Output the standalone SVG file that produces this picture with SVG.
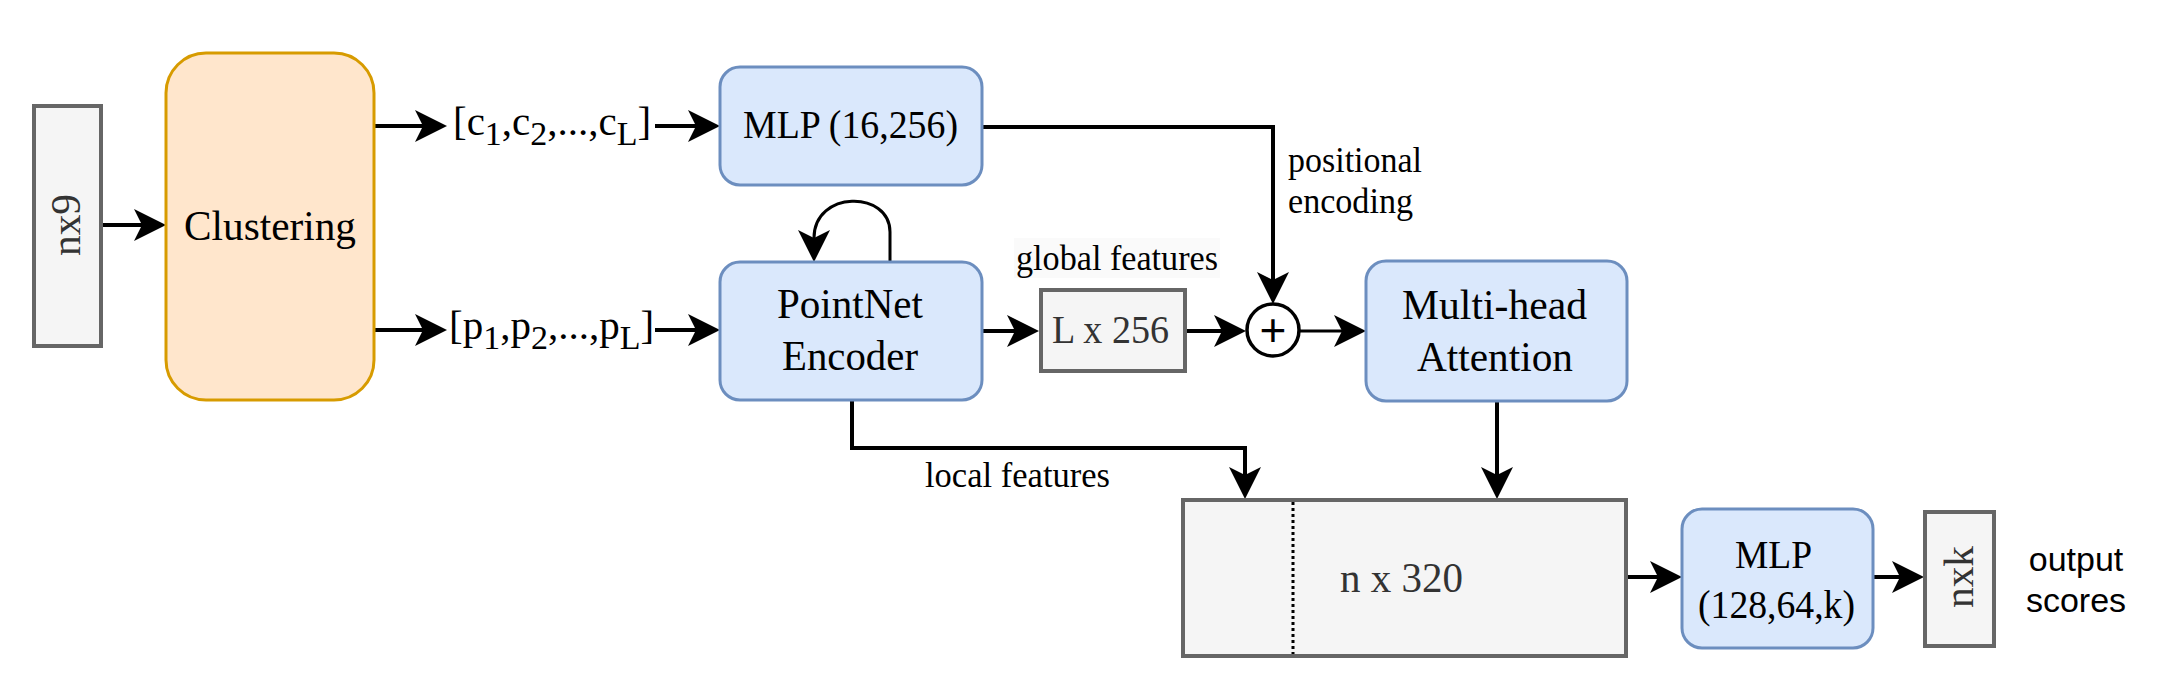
<svg xmlns="http://www.w3.org/2000/svg" width="2172" height="700" viewBox="0 0 2172 700">
<style>
.serif{font-family:"Liberation Serif","Times New Roman",serif;fill:#000}
.big{font-size:43px}
.sub{font-size:41px}
.mid{font-size:40px}
.lbl{font-size:36px}
.gray{fill:#333}
.blue{fill:#dae8fc;stroke:#6c8ebf;stroke-width:3}
.gbox{fill:#f5f5f5;stroke:#666;stroke-width:4}
.conn{fill:none;stroke:#000;stroke-width:4}
.thin{stroke-width:3}
</style>
<defs>
<marker id="arr" markerUnits="userSpaceOnUse" markerWidth="32" markerHeight="32" viewBox="0 0 32 32" refX="8" refY="16" orient="auto">
<path d="M32,16 L0,0 L8,16 L0,32 Z" fill="#000"/>
</marker>
</defs>
<rect width="2172" height="700" fill="#fff"/>

<g id="connectors">
<path class="conn" d="M102,225 H142" marker-end="url(#arr)"/>
<path class="conn" d="M374,126 H423" marker-end="url(#arr)"/>
<path class="conn" d="M655,126 H696" marker-end="url(#arr)"/>
<path class="conn" d="M374,330 H423" marker-end="url(#arr)"/>
<path class="conn" d="M655,330 H696" marker-end="url(#arr)"/>
<path class="conn thin" d="M890,262 V232 C890,190 814,190 814,238" marker-end="url(#arr)"/>
<path class="conn" d="M982,331 H1015" marker-end="url(#arr)"/>
<path class="conn" d="M1187,331 H1222" marker-end="url(#arr)"/>
<path class="conn" d="M982,127 H1273 V280" marker-end="url(#arr)"/>
<path class="conn thin" d="M1300,331 H1342" marker-end="url(#arr)"/>
<path class="conn" d="M852,400 V448 H1245 V475" marker-end="url(#arr)"/>
<path class="conn" d="M1497,401 V475" marker-end="url(#arr)"/>
<path class="conn" d="M1627,577 H1658" marker-end="url(#arr)"/>
<path class="conn" d="M1873,577 H1900" marker-end="url(#arr)"/>
</g>

<g id="input">
<rect class="gbox" x="34" y="106" width="67" height="240"/>
<text class="serif big gray" transform="translate(80,225) rotate(-90)" x="-31" y="0" textLength="62" lengthAdjust="spacingAndGlyphs">nx9</text>
</g>

<g id="clustering">
<rect x="166" y="53" width="208" height="347" rx="40" fill="#ffe6cc" stroke="#d79b00" stroke-width="3"/>
<text class="serif big" x="184" y="240" textLength="172" lengthAdjust="spacingAndGlyphs">Clustering</text>
</g>

<g id="centroids">
<text class="serif sub" x="453" y="135">[c<tspan dy="10" font-size="34">1</tspan><tspan dy="-10">,c</tspan><tspan dy="10" font-size="34">2</tspan><tspan dy="-10">,...,c</tspan><tspan dy="10" font-size="34">L</tspan><tspan dy="-10">]</tspan></text>
</g>

<g id="points">
<text class="serif sub" x="449" y="339">[p<tspan dy="10" font-size="34">1</tspan><tspan dy="-10">,p</tspan><tspan dy="10" font-size="34">2</tspan><tspan dy="-10">,...,p</tspan><tspan dy="10" font-size="34">L</tspan><tspan dy="-10">]</tspan></text>
</g>

<g id="mlp1">
<rect class="blue" x="720" y="67" width="262" height="118" rx="20"/>
<text class="serif mid" x="743" y="138" textLength="215" lengthAdjust="spacingAndGlyphs">MLP (16,256)</text>
</g>

<g id="pointnet">
<rect class="blue" x="720" y="262" width="262" height="138" rx="20"/>
<text class="serif big" x="777" y="318" textLength="146" lengthAdjust="spacingAndGlyphs">PointNet</text>
<text class="serif big" x="782" y="370" textLength="136" lengthAdjust="spacingAndGlyphs">Encoder</text>
</g>

<g id="global-label">
<rect x="1014" y="238" width="206" height="40" fill="#fafafa"/>
<text class="serif lbl" x="1016" y="270" textLength="202" lengthAdjust="spacingAndGlyphs">global features</text>
</g>

<g id="global">
<rect class="gbox" x="1041" y="290" width="144" height="81"/>
<text class="serif mid gray" x="1052" y="343" textLength="117" lengthAdjust="spacingAndGlyphs">L x 256</text>
</g>

<g id="pos-label">
<text class="serif lbl" x="1288" y="172" textLength="134" lengthAdjust="spacingAndGlyphs">positional</text>
<text class="serif lbl" x="1288" y="213" textLength="125" lengthAdjust="spacingAndGlyphs">encoding</text>
</g>

<g id="sum">
<circle cx="1273" cy="330" r="26" fill="#fff" stroke="#000" stroke-width="3.5"/>
<text x="1273" y="346" text-anchor="middle" font-family="Liberation Sans, Arial, sans-serif" font-size="46">+</text>
</g>

<g id="attention">
<rect class="blue" x="1366" y="261" width="261" height="140" rx="20"/>
<text class="serif big" x="1402" y="319" textLength="185" lengthAdjust="spacingAndGlyphs">Multi-head</text>
<text class="serif big" x="1417" y="371" textLength="156" lengthAdjust="spacingAndGlyphs">Attention</text>
</g>

<g id="local-label">
<text class="serif lbl" x="925" y="487" textLength="185" lengthAdjust="spacingAndGlyphs">local features</text>
</g>

<g id="concat">
<rect class="gbox" x="1183" y="500" width="443" height="156"/>
<line x1="1293" y1="502" x2="1293" y2="654" stroke="#000" stroke-width="3" stroke-dasharray="3 3"/>
<text class="serif big gray" x="1340" y="592" textLength="123" lengthAdjust="spacingAndGlyphs">n x 320</text>
</g>

<g id="mlp2">
<rect class="blue" x="1682" y="509" width="191" height="139" rx="20"/>
<text class="serif mid" x="1735" y="568" textLength="77" lengthAdjust="spacingAndGlyphs">MLP</text>
<text class="serif mid" x="1698" y="618" textLength="157" lengthAdjust="spacingAndGlyphs">(128,64,k)</text>
</g>

<g id="output">
<rect class="gbox" x="1925" y="512" width="69" height="134"/>
<text class="serif big gray" transform="translate(1973,577) rotate(-90)" x="-31" y="0" textLength="62" lengthAdjust="spacingAndGlyphs">nxk</text>
</g>

<g id="output-label">
<text x="2076" y="571" text-anchor="middle" font-family="Liberation Sans, Arial, sans-serif" font-size="34">output</text>
<text x="2076" y="612" text-anchor="middle" font-family="Liberation Sans, Arial, sans-serif" font-size="34">scores</text>
</g>
</svg>
